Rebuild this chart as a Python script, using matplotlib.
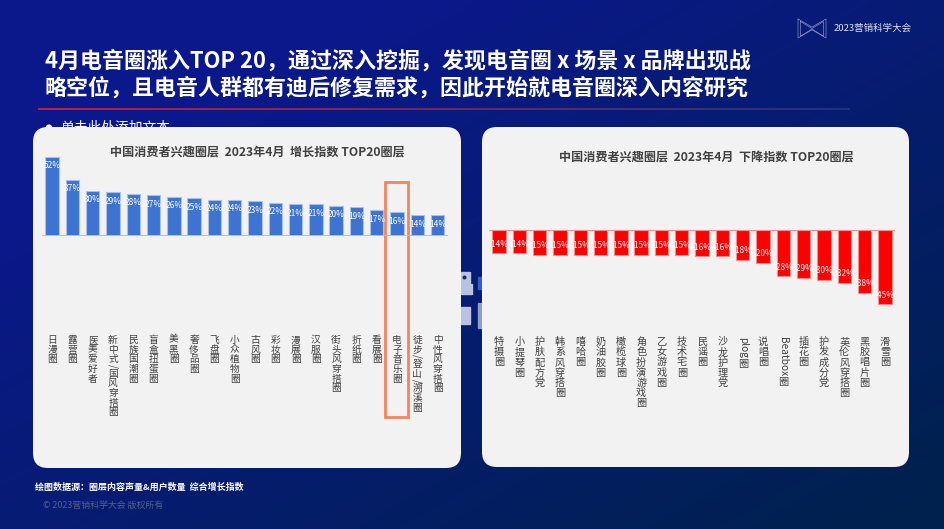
import numpy as np
import matplotlib
matplotlib.use('Agg')
import matplotlib.pyplot as plt
from matplotlib.patches import FancyBboxPatch, Rectangle, Circle

plt.rcParams['font.family'] = ['Noto Sans CJK SC', 'DejaVu Sans']

W, H = 945, 529

up_labels = ['日漫圈', '露营圈', '医美爱好者', '新中式/国风穿搭圈', '民族国潮圈', '盲盒扭蛋圈', '美黑圈',
             '奢侈品圈', '飞盘圈', '小众植物圈', '古风圈', '彩妆圈', '漫展圈', '汉服圈',
             '街头风穿搭圈', '折纸圈', '看展圈', '电子音乐圈', '徒步/登山/溯溪圈', '中性风穿搭圈']
up_values = [52, 37, 30, 29, 28, 27, 26, 25, 24, 24, 23, 22, 21, 21, 20, 19, 17, 16, 14, 14]

down_labels = ['特摄圈', '小提琴圈', '护肤配方党', '韩系风穿搭圈', '嘻哈圈', '奶油胶圈', '橄榄球圈',
               '角色扮演游戏圈', '乙女游戏圈', '技术宅圈', '民谣圈', '沙龙护理党', 'plog圈', '说唱圈',
               'Beatbox圈', '插花圈', '护发成分党', '英伦风穿搭圈', '黑胶唱片圈', '滑雪圈']
down_values = [-14, -14, -15, -15, -15, -15, -15, -15, -15, -15, -16, -16, -18, -20, -28, -29, -30, -32, -38, -45]

title_lines = ['4月电音圈涨入TOP 20，通过深入挖掘，发现电音圈 x 场景 x 品牌出现战',
               '略空位，且电音人群都有迪后修复需求，因此开始就电音圈深入内容研究']


def px_axes(fig, x0, y0, x1, y1):
    # axes placed in image pixels, y going down
    return fig.add_axes([x0 / W, 1 - y1 / H, (x1 - x0) / W, (y1 - y0) / H])


def stacked_label(bg, x, y, label, step, size):
    # chinese stays upright, latin runs are turned on their side
    i = 0
    while i < len(label):
        if ord(label[i]) < 128:
            j = i
            while j < len(label) and ord(label[j]) < 128:
                j += 1
            t = bg.text(x, y, label[i:j], rotation=-90, ha='center', va='top', fontsize=size,
                        color='#404040', zorder=5)
            bb = t.get_window_extent(fig.canvas.get_renderer())
            y += bb.height * 100 / fig.dpi + 1
            i = j
        else:
            bg.text(x, y + step / 2, label[i], ha='center', va='center', fontsize=size,
                    color='#404040', zorder=5)
            y += step
            i += 1


def bar_panel(ax, bg, values, labels, color, edge, base_color, label_y, step, size, label_off):
    x = np.arange(len(values))
    ax.bar(x, values, width=0.66, color=color, edgecolor=edge, linewidth=0.8)
    ax.axhline(0, color=base_color, linewidth=1.4)
    ax.set_xlim(-0.5, len(values) - 0.5)
    ax.axis('off')
    for i, v in enumerate(values):
        ax.annotate(f'{v}%', (i, v), xytext=(0, label_off), textcoords='offset points', ha='center',
                    va='center', color='white', fontsize=6, clip_on=False)
    pos = ax.get_position()
    for i, lab in enumerate(labels):
        cx = (pos.x0 + (i + 0.5) / len(labels) * pos.width) * W
        stacked_label(bg, cx, label_y, lab, step, size)


fig = plt.figure(figsize=(W / 100, H / 100), dpi=100)

# full slide layer in pixel coordinates
bg = fig.add_axes([0, 0, 1, 1])
bg.set_xlim(0, W)
bg.set_ylim(H, 0)
bg.axis('off')

# background gradient, top left to bottom right
xx, yy = np.meshgrid(np.linspace(0, 1, 190), np.linspace(0, 1, 106))
t = np.clip((xx * 0.62 + yy * 0.62 - 0.25) / 0.95, 0, 1)[..., None]
c0 = np.array([11, 24, 140]) / 255
c1 = np.array([0, 33, 78]) / 255
bg.imshow(c0 + (c1 - c0) * t, extent=[0, W, H, 0], aspect='auto', zorder=0, interpolation='bilinear')

# bits of a picture showing between the two panels
bg.add_patch(Rectangle((461, 272), 9, 11, color='#b9c3df', zorder=1))
bg.add_patch(Circle((464.5, 277.5), 1.3, color='#1c2a60', zorder=1.5))
bg.add_patch(Rectangle((461, 284), 11, 10, color='#b9c3df', zorder=1))
bg.add_patch(Rectangle((461, 307), 9, 17, color='#b9c3df', zorder=1))
bg.add_patch(Rectangle((478, 303), 4, 25, color='#8f9cc4', zorder=1))
bg.add_patch(Rectangle((478, 277), 4, 12, color='#2f62c0', zorder=1))

# title
for line, y in zip(title_lines, [61, 88]):
    bg.text(45, y, line, color='white', fontsize=15.8, fontweight='bold', va='center', ha='left', zorder=2)

# rule under the title, fading out
fade = np.linspace(0, 1, 256)[None, :, None]
rule = np.array([190, 30, 60]) / 255 * (1 - fade) + np.array([30, 50, 130]) / 255 * fade
bg.imshow(rule, extent=[38, 850, 110.5, 109], aspect='auto', zorder=2)

bg.add_patch(Circle((49, 128), 2.8, color='white', zorder=2))
bg.text(60, 128, '单击此处添加文本', color='white', fontsize=9.9, va='center', ha='left', zorder=2)

# logo
logo_color = '#9fa8d8'
for d in [0, 2.5]:
    bg.plot([798 + d, 798 + d, 812, 826 - d, 826 - d, 812, 798 + d],
            [19 + d, 38 - d * 0.6, 29 + d * 0.3, 38 - d * 0.6, 19 + d, 27 + d * 0.6, 19 + d],
            color=logo_color, linewidth=0.4, zorder=2)
bg.text(834, 28, '2023营销科学大会', color='#dfe3f4', fontsize=6.8, va='center', ha='left', zorder=2)

# footer
bg.text(35, 487, '绘图数据源：圈层内容声量&用户数量  综合增长指数', color='white', fontsize=6.5,
        fontweight='bold', va='center', ha='left', zorder=2)
bg.text(43, 505, '© 2023营销科学大会 版权所有', color='#50608f', fontsize=6.4, va='center', ha='left', zorder=2)

# white panels
for x0, x1, y1 in [(33, 461, 468), (482, 909, 467)]:
    bg.add_patch(FancyBboxPatch((x0 + 15, 127 + 15), x1 - x0 - 30, y1 - 127 - 30,
                                boxstyle='round,pad=15,rounding_size=15', facecolor='#f2f2f2',
                                edgecolor='none', zorder=3))

bg.text(257, 152, '中国消费者兴趣圈层  2023年4月  增长指数 TOP20圈层', color='#404040', fontsize=8.7,
        fontweight='bold', ha='center', va='center', zorder=5)
bg.text(706, 157, '中国消费者兴趣圈层  2023年4月  下降指数 TOP20圈层', color='#404040', fontsize=8.7,
        fontweight='bold', ha='center', va='center', zorder=5)
bg.set_xlim(0, W)
bg.set_ylim(H, 0)

# growth bars
ax1 = px_axes(fig, 41.9, 150, 447.8, 236.5)
ax1.set_ylim(0, 86.5 / 1.53)
bar_panel(ax1, bg, up_values, up_labels, '#3d73d1', '#a9c1e8', '#a9c1e8', 335, 9.7, 7, -6.5)

# decline bars
ax2 = px_axes(fig, 488.9, 230, 895, 320)
ax2.set_ylim(-90 / 1.65, 0)
bar_panel(ax2, bg, down_values, down_labels, '#ff0000', '#ff8a8a', '#ff8a8a', 337, 10.2, 7.3, 6.5)

# highlight around 电子音乐圈
bg.add_patch(Rectangle((385, 182), 23, 235, fill=False, edgecolor='#f4845a', linewidth=2, zorder=6))

fig.savefig('out.png', dpi=100)
